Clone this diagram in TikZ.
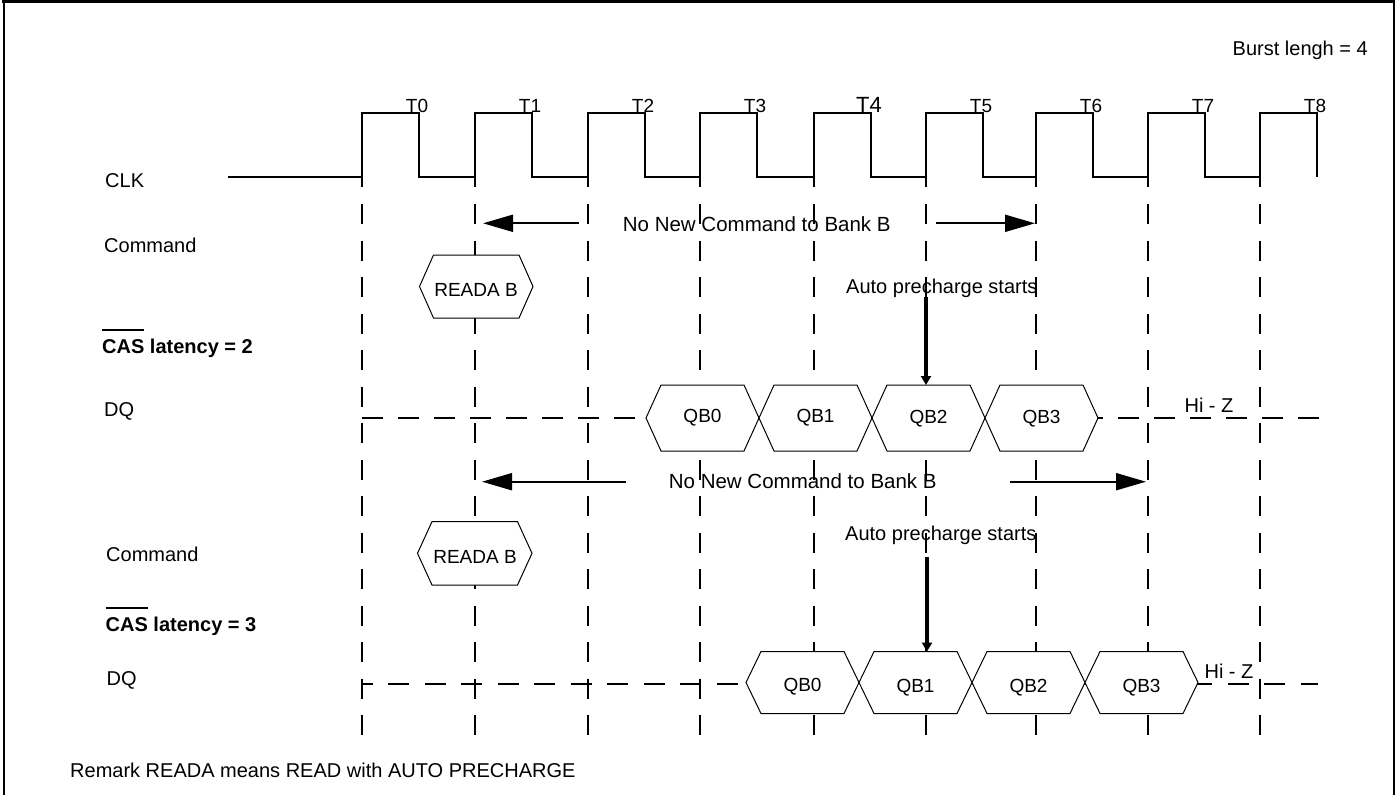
\documentclass[tikz,border=0pt]{standalone}
\usepackage{fontspec}
\setmainfont{Liberation Sans}
\usetikzlibrary{arrows.meta}
\newcommand\myovl[1]{\leavevmode\vbox{\hrule height 2.5pt\kern 8pt\hbox{#1}}}
\newcommand\myhex[7]{%
  \draw[hexl] (#1,#3) -- ({#1+#5},{#3-#4}) -- ({#2-#5},{#3-#4}) -- (#2,#3)
     -- ({#2-#5},{#3+#4}) -- ({#1+#5},{#3+#4}) -- cycle;}
\begin{document}
\begin{tikzpicture}[x=1pt,y=-1pt,
  lbl/.style={inner sep=0pt,anchor=base west,font=\fontsize{20}{24}\selectfont},
  clab/.style={inner sep=0pt,anchor=base,font=\fontsize{19}{23}\selectfont},
  hlab/.style={inner sep=0pt,anchor=base,font=\fontsize{19}{23}\selectfont},
  clk/.style={line width=2.3pt},
  gridl/.style={line width=2pt,dash pattern=on 20pt off 16.5pt},
  dqa/.style={line width=2pt,dash pattern=on 21pt off 15pt},
  dqb/.style={line width=2pt,dash pattern=on 21pt off 15.5pt,dash phase=10.5pt},
  hexl/.style={line width=1pt,fill=white},
  arr/.style={line width=2pt,-{Triangle[length=30pt,width=17pt]}},
  tarr/.style={line width=4pt,-{Triangle[length=9pt,width=10pt]}}]
\useasboundingbox (0,0) rectangle (1397,795);
% frame
\draw[line width=3pt] (2,1.5) -- (1395,1.5);
\draw[line width=2pt] (3.5,0) -- (3.5,795);
\draw[line width=2pt] (1394,0) -- (1394,795);
% vertical grid
\foreach \x in {362,475,588,700,814,926,1036,1148,1260}
  \draw[gridl] (\x,204) -- (\x,735);
% clock
\draw[clk] (228,177) -- (362,177);
\foreach \x/\n in {362/475,475/588,588/700,700/814,814/926,926/1036,1036/1148,1148/1260}
  \draw[clk] (\x,187) -- (\x,113) -- ({\x+57},113) -- ({\x+57},177) -- (\n,177);
\draw[clk] (1260,187) -- (1260,113) -- (1317,113) -- (1317,177);
\foreach \x [count=\i from 0] in {362,475,588,700,814,926,1036,1148,1260}{
  \ifnum\i=4
    \node[clab,font=\fontsize{22}{26}\selectfont] (t\i) at ({\x+55},112) {T\i};
  \else
    \node[clab] (t\i) at ({\x+55},112) {T\i};
  \fi}
% left labels
\node[lbl] (clk) at (105,187) {CLK};
\node[lbl] (cmd1) at (104,252.5) {Command};
\node[lbl] (cas2) at (102,353) {\bfseries\myovl{CAS} latency = 2};
\node[lbl] (dq1) at (104,416) {DQ};
\node[lbl] (cmd2) at (106,561) {Command};
\node[lbl] (cas3) at (105.5,631) {\bfseries\myovl{CAS} latency = 3};
\node[lbl] (dq2) at (106.5,685) {DQ};
\node[lbl,anchor=base east] (burst) at (1368,55) {Burst lengh = 4};
\node[lbl] (remark) at (70,777) {Remark READA means READ with AUTO PRECHARGE};
% DQ dashed lines
\draw[dqa] (362,418) -- (1330,418);
\draw[dqb] (362,684) -- (1318,684);
% row 1
\coordinate (a1s) at (579,223.3);
\coordinate (a1e) at (483,223.3);
\coordinate (a2s) at (936,223.3);
\coordinate (a2e) at (1035,223.3);
\draw[arr] (a1s) -- (a1e);
\draw[arr] (a2s) -- (a2e);
\node[lbl,font=\fontsize{20.5}{24}\selectfont] (nn1) at (622.7,231) {No New Command to Bank B};
\myhex{419.5}{533}{286.5}{31.5}{14}{h1}{}
\node[hlab] (reada1) at (476,296.5) {READA B};
\node[lbl] (ap1) at (846,293) {Auto precharge starts};
\coordinate (p1s) at (926,297);
\coordinate (p1e) at (926,385);
\draw[tarr] (p1s) -- (p1e);
\myhex{646}{759}{418}{33}{15}{q10}{}
\myhex{759}{872}{418}{33}{15}{q11}{}
\myhex{872}{985}{418}{33}{15}{q12}{}
\myhex{985}{1098}{418}{33}{15}{q13}{}
\node[hlab] (qa0) at (702.5,422) {QB0};
\node[hlab] (qa1) at (815.5,422) {QB1};
\node[hlab] (qa2) at (928.5,423) {QB2};
\node[hlab] (qa3) at (1041.5,423) {QB3};
\node[hlab,font=\fontsize{20}{24}\selectfont] (hz1) at (1209,412) {Hi - Z};
% row 2
\coordinate (b1s) at (626.4,481.7);
\coordinate (b1e) at (482,481.7);
\coordinate (b2s) at (1009.5,481.7);
\coordinate (b2e) at (1146,481.7);
\draw[arr] (b1s) -- (b1e);
\draw[arr] (b2s) -- (b2e);
\node[lbl,font=\fontsize{20.5}{24}\selectfont] (nn2) at (668.7,488.5) {No New Command to Bank B};
\myhex{417.5}{532}{553.3}{31.7}{14.5}{h2}{}
\node[hlab] (reada2) at (475,563) {READA B};
\node[lbl] (ap2) at (845,540) {Auto precharge starts};
\coordinate (p2s) at (927,557);
\coordinate (p2e) at (927,651.5);
\draw[tarr] (p2s) -- (p2e);
\myhex{746}{859}{682.5}{31}{15}{q20}{}
\myhex{859}{972}{682.5}{31}{15}{q21}{}
\myhex{972}{1085}{682.5}{31}{15}{q22}{}
\myhex{1085}{1198}{682.5}{31}{15}{q23}{}
\node[hlab] (qb0) at (802.5,691) {QB0};
\node[hlab] (qb1) at (915.5,692.5) {QB1};
\node[hlab] (qb2) at (1028.5,692) {QB2};
\node[hlab] (qb3) at (1141.5,692) {QB3};
\node[hlab,font=\fontsize{20}{24}\selectfont] (hz2) at (1229,678) {Hi - Z};
\end{tikzpicture}
\end{document}
